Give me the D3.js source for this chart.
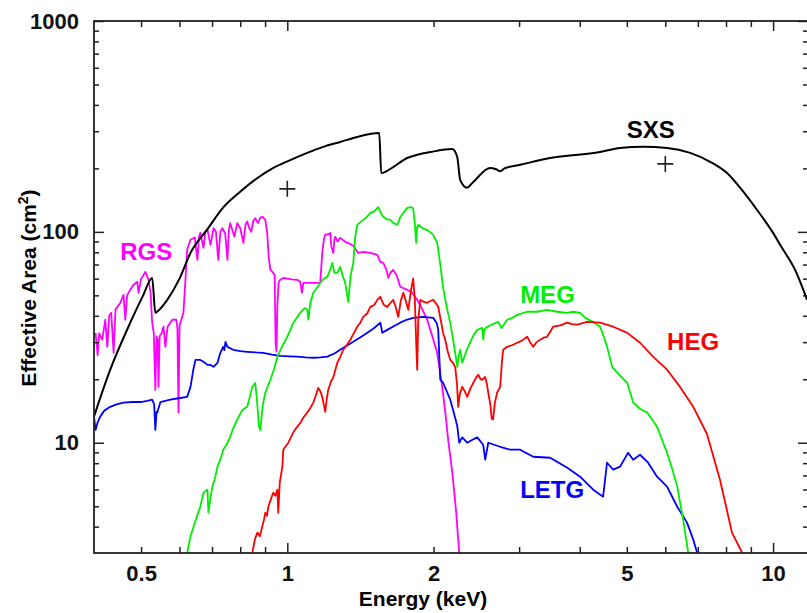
<!DOCTYPE html>
<html>
<head>
<meta charset="utf-8">
<script src="https://cdn.jsdelivr.net/npm/d3@7"></script>
<style>
body { margin:0; background:#fff; }
text { font-family: "Liberation Sans", Arial, Helvetica, sans-serif; }
</style>
</head>
<body>
<div id="chart"></div>
<script>
// [energy keV, effective area cm2]
const sxsData = [[0.40,13.3],[0.432,22.2],[0.475,37.1],[0.505,50],[0.527,60.5],[0.535,41.3],[0.540,41.9],[0.566,47.6],[0.600,60],[0.632,79.5],[0.685,103],[0.739,131],[0.800,155],[0.868,180],[0.936,201],[1.014,219],[1.099,237],[1.186,253],[1.285,267],[1.393,282],[1.546,294],[1.561,190],[1.652,203],[1.765,224],[1.851,232],[1.969,239],[2.185,247],[2.237,227],[2.270,176],[2.344,162],[2.412,172],[2.616,201],[2.69,198],[2.743,194],[2.80,200],[3.015,208],[3.476,224],[4.404,239],[4.842,250],[5.40,253],[6.05,250],[6.75,237],[7.42,215],[8.04,190],[8.55,162],[9.27,127],[10.0,98.9],[10.4,84.9],[11.1,66],[11.75,47.6]];

const rgsData = [[0.403,33.2],[0.407,26],[0.410,33],[0.416,30.8],[0.422,38.3],[0.426,28.5],[0.430,40],[0.434,41.3],[0.439,26.7],[0.443,43],[0.447,44.1],[0.453,46],[0.460,50.3],[0.464,38.3],[0.468,50],[0.475,53.1],[0.482,56],[0.491,58.0],[0.494,51.4],[0.500,60],[0.505,62],[0.510,64.6],[0.514,62],[0.518,59.2],[0.523,51.4],[0.527,37.1],[0.531,33.2],[0.535,17.8],[0.538,32],[0.541,30.8],[0.543,18.4],[0.546,32],[0.552,33.2],[0.556,35.5],[0.561,28.5],[0.567,35.5],[0.580,38.3],[0.591,38.3],[0.594,35],[0.597,13.9],[0.600,36],[0.605,38.3],[0.611,41.3],[0.617,59.2],[0.622,82.2],[0.632,91.7],[0.645,94],[0.653,73.6],[0.658,95],[0.662,98.9],[0.672,84],[0.678,100],[0.685,102],[0.695,86.8],[0.705,104],[0.713,100],[0.721,73.6],[0.728,100],[0.735,104],[0.745,98],[0.753,73.6],[0.758,102],[0.763,110],[0.778,95],[0.789,110],[0.800,104],[0.812,88.7],[0.820,108],[0.827,112],[0.835,104],[0.843,100],[0.850,112],[0.859,116],[0.870,110],[0.880,117],[0.888,118],[0.901,114],[0.909,98.9],[0.916,75],[0.923,66],[0.936,63.9],[0.942,62],[0.946,30],[0.950,27],[0.954,45],[0.960,58],[0.967,59.2],[0.981,60.5],[1.020,59.5],[1.048,59.2],[1.063,58],[1.072,51.4],[1.079,57.3],[1.099,57.3],[1.130,57.3],[1.169,57.3],[1.180,79.5],[1.190,93],[1.197,96.8],[1.215,97.5],[1.226,98.9],[1.232,85],[1.244,79.5],[1.250,92],[1.255,94.7],[1.270,90],[1.285,93.7],[1.304,91],[1.325,89],[1.348,87.6],[1.367,86],[1.385,82],[1.400,79.5],[1.433,80.4],[1.482,79.5],[1.532,77.8],[1.554,72],[1.576,71.3],[1.600,66],[1.614,60.5],[1.630,64],[1.652,66],[1.680,62],[1.708,54.9],[1.766,53.1],[1.808,51.4],[1.851,47.6],[1.896,43],[1.941,38.3],[1.988,32],[2.035,26.7],[2.084,18.4],[2.114,14],[2.144,10.3],[2.185,7.3],[2.227,4.66],[2.259,3.0]];

const letgData = [[0.400,13.3],[0.403,11.5],[0.407,12.5],[0.412,13.3],[0.420,14.2],[0.432,14.8],[0.445,15.2],[0.460,15.5],[0.480,15.6],[0.499,15.6],[0.515,15.8],[0.527,16.0],[0.532,15.2],[0.535,11.5],[0.538,14],[0.540,13.9],[0.548,15.6],[0.574,16.0],[0.602,16.3],[0.622,16.5],[0.632,18.4],[0.640,22],[0.647,24.7],[0.662,24.7],[0.672,24.2],[0.685,23.4],[0.695,23.4],[0.705,22.9],[0.718,23.9],[0.728,26.7],[0.738,28.5],[0.742,27.5],[0.746,30.1],[0.753,28.5],[0.774,27.6],[0.800,27.2],[0.827,27.0],[0.860,26.8],[0.892,26.7],[0.930,26.2],[0.967,25.8],[1.010,25.7],[1.048,25.6],[1.090,25.4],[1.131,25.3],[1.170,25.4],[1.209,25.6],[1.250,26.5],[1.285,27.6],[1.330,29],[1.367,30.1],[1.420,31.8],[1.461,33.2],[1.510,35],[1.554,37.1],[1.569,33.2],[1.606,34.3],[1.660,35.8],[1.708,37.1],[1.760,38.3],[1.816,39.1],[1.905,39.5],[1.997,39.1],[2.030,37],[2.045,34.3],[2.065,19.9],[2.094,19.2],[2.130,17.5],[2.165,16],[2.200,14],[2.238,12],[2.259,10],[2.291,10.6],[2.346,10.0],[2.400,10.3],[2.460,10.6],[2.531,9.78],[2.555,8.31],[2.592,10.0],[2.743,9.57],[2.874,9.27],[3.015,9.27],[3.208,8.58],[3.476,8.49],[3.770,7.61],[4.006,6.90],[4.264,5.99],[4.468,5.55],[4.552,8.04],[4.686,7.45],[4.842,7.70],[5.03,8.97],[5.152,8.31],[5.323,8.77],[5.53,8.04],[5.77,6.90],[6.05,6.19],[6.35,4.97],[6.65,4.18],[6.85,3.47],[6.98,3.0]];

const megData = [[0.622,3.0],[0.632,3.6],[0.641,4.0],[0.652,4.5],[0.662,4.97],[0.672,5.8],[0.685,5.99],[0.688,4.66],[0.695,5.5],[0.701,6.19],[0.710,6.8],[0.718,7.7],[0.728,8.3],[0.738,9.27],[0.750,9.8],[0.763,10.7],[0.775,11.8],[0.789,12.9],[0.808,14.3],[0.827,14.8],[0.837,16.5],[0.847,18.4],[0.859,19.2],[0.866,16],[0.874,12],[0.880,11.5],[0.890,15],[0.901,17.3],[0.923,19.9],[0.940,22.5],[0.954,25.6],[0.975,28.5],[1.0,31.8],[1.029,37.1],[1.063,41.3],[1.085,43.5],[1.099,42.7],[1.105,38.3],[1.115,46],[1.131,51.4],[1.150,54],[1.169,57.3],[1.190,60],[1.209,61.2],[1.225,66],[1.238,71.3],[1.250,64],[1.267,63.9],[1.285,68.2],[1.300,62],[1.316,57.3],[1.335,46.6],[1.350,62],[1.367,71.3],[1.380,95],[1.393,108],[1.433,114],[1.460,118],[1.482,123],[1.510,125],[1.539,131],[1.560,122],[1.576,118],[1.600,115],[1.629,114],[1.655,110],[1.684,108],[1.710,118],[1.733,123],[1.766,130],[1.800,131],[1.816,129],[1.830,110],[1.842,88.7],[1.850,105],[1.860,108],[1.900,104],[1.941,102],[1.997,96.8],[2.035,88.7],[2.065,70],[2.094,54],[2.133,43],[2.165,37],[2.196,30.5],[2.220,26],[2.238,22.9],[2.255,26],[2.270,27.6],[2.290,24],[2.302,24.7],[2.340,27.5],[2.380,30],[2.420,32.5],[2.460,34.3],[2.519,35.1],[2.531,30.8],[2.545,34.5],[2.580,35.5],[2.650,36.5],[2.717,37.4],[2.760,35],[2.836,38.3],[2.900,39],[2.973,40.4],[3.117,41.8],[3.268,41.8],[3.426,42.7],[3.593,41.8],[3.767,41.3],[3.878,41.8],[4.006,41.3],[4.104,39.1],[4.264,37.4],[4.404,35.5],[4.480,32],[4.552,28.5],[4.665,22.9],[4.775,21.5],[5.01,19.2],[5.152,15.5],[5.32,14.5],[5.505,13.9],[5.77,11.9],[5.91,10.3],[6.05,8.97],[6.2,7.5],[6.35,6.19],[6.53,4.32],[6.69,3.0]];

const hegData = [[0.847,3.0],[0.858,3.5],[0.868,3.75],[0.878,3.6],[0.888,4.0],[0.895,4.3],[0.901,4.66],[0.908,4.5],[0.914,4.97],[0.925,5.4],[0.936,5.8],[0.945,5.6],[0.954,5.99],[0.958,4.66],[0.965,6.5],[0.977,7.7],[0.981,9.27],[0.992,9.6],[1.005,10.0],[1.017,10.6],[1.029,11.2],[1.045,11.8],[1.063,12.4],[1.080,13.2],[1.099,13.9],[1.115,14.6],[1.131,15.5],[1.145,16.8],[1.158,18.2],[1.170,17.5],[1.180,16.5],[1.197,14.0],[1.205,16],[1.214,17.8],[1.230,19.5],[1.244,20.5],[1.267,23.9],[1.285,25.5],[1.304,27.6],[1.325,29],[1.348,30.8],[1.370,33],[1.393,35.5],[1.413,37],[1.433,39.5],[1.460,41],[1.482,44.1],[1.510,45],[1.532,47.6],[1.554,49.2],[1.580,45],[1.606,44.1],[1.630,46],[1.652,47.6],[1.672,44],[1.692,39.5],[1.712,47],[1.733,51.4],[1.754,47],[1.774,42.7],[1.795,52],[1.816,60],[1.830,48],[1.842,30],[1.851,22.2],[1.860,38],[1.878,47.6],[1.910,46.5],[1.941,46.1],[1.970,47],[1.997,47.6],[2.020,46],[2.045,44.1],[2.070,38],[2.094,33],[2.114,30.8],[2.140,27],[2.165,24.7],[2.190,24],[2.216,22.9],[2.235,19],[2.248,14.8],[2.265,17],[2.291,18.4],[2.320,17.5],[2.346,16.5],[2.380,18],[2.414,19.2],[2.445,20.3],[2.472,21.0],[2.500,20],[2.519,19.9],[2.555,20.5],[2.575,19],[2.592,17.3],[2.620,15],[2.635,13],[2.652,12.9],[2.675,15.5],[2.704,17.3],[2.743,18.4],[2.765,24],[2.782,27.6],[2.836,28.5],[2.900,29],[2.973,29.8],[3.040,30.5],[3.117,31.8],[3.160,30],[3.208,28.5],[3.260,30],[3.315,30.8],[3.370,31.5],[3.426,31.8],[3.526,35.5],[3.650,36],[3.767,37.1],[3.850,36.5],[3.951,36.3],[4.142,37.4],[4.404,37.1],[4.686,35.5],[5.01,33.2],[5.323,29.8],[5.66,25.6],[6.05,22.2],[6.433,18.4],[6.85,14.8],[7.31,11.0],[7.775,6.68],[8.23,3.75],[8.64,3.0]];

// the two "+" markers
const crossData = [[1.0,160],[6.0,210]];

const xTickLabels = [0.5, 1, 2, 5, 10];
const yTickLabels = [10, 100, 1000];

const series = [
    {name:"SXS",  data:sxsData,  color:"#000000"},
    {name:"RGS",  data:rgsData,  color:"#ff00ff"},
    {name:"LETG", data:letgData, color:"#0000ff"},
    {name:"MEG",  data:megData,  color:"#00ee00"},
    {name:"HEG",  data:hegData,  color:"#ff0000"}
];

var width = 807, height = 613;
var margin = {top: 21, right: 808, bottom: 553, left: 94};

var svg = d3.select("#chart")
    .append("svg")
    .attr("width", width)
    .attr("height", height);

var x = d3.scaleLog()
    .domain([0.4, 11.8])
    .range([margin.left, margin.right]);

var y = d3.scaleLog()
    .domain([3, 1000])
    .range([margin.bottom, margin.top]);

svg.append("clipPath").attr("id", "plotclip")
    .append("rect")
    .attr("x", margin.left).attr("y", margin.top)
    .attr("width", margin.right - margin.left)
    .attr("height", margin.bottom - margin.top);

// curves
var line = d3.line()
    .x(d => x(d[0]))
    .y(d => y(d[1]));

var plot = svg.append("g").attr("clip-path", "url(#plotclip)");

series.slice(1).forEach(s => {
    plot.append("path")
        .datum(s.data)
        .attr("fill", "none")
        .attr("stroke", s.color)
        .attr("stroke-width", 1.8)
        .attr("stroke-linejoin", "round")
        .attr("d", line);
});
// SXS is smooth, draw it on top
plot.append("path")
    .datum(sxsData)
    .attr("fill", "none")
    .attr("stroke", "#000")
    .attr("stroke-width", 2)
    .attr("d", line.curve(d3.curveMonotoneX));

svg.selectAll("path.cross")
    .data(crossData)
    .enter().append("path")
    .attr("class", "cross")
    .attr("transform", d => "translate(" + x(d[0]) + "," + y(d[1]) + ")")
    .attr("d", "M-8,0H8M0,-8V8")
    .attr("stroke", "#222")
    .attr("stroke-width", 1.6);

// frame + ticks (all inward)
var decX = [1, 10];
var minorX = x.ticks().filter(d => decX.indexOf(d) < 0 && d > 0.41);
var decY = yTickLabels.concat([]);
var minorY = y.ticks().filter(d => decY.indexOf(d) < 0 && d > 3.01);

function tickAxis(axis, vals, size, tr) {
    var g = svg.append("g")
        .attr("transform", tr)
        .call(axis.tickValues(vals).tickSize(size).tickFormat(""));
    g.select(".domain").remove();
    g.selectAll("line").attr("stroke", "#222").attr("stroke-width", 1.5);
}
tickAxis(d3.axisBottom(x), minorX, -6, "translate(0," + margin.bottom + ")");
tickAxis(d3.axisBottom(x), decX, -10, "translate(0," + margin.bottom + ")");
tickAxis(d3.axisTop(x), minorX, -6, "translate(0," + margin.top + ")");
tickAxis(d3.axisTop(x), decX, -10, "translate(0," + margin.top + ")");
tickAxis(d3.axisLeft(y), minorY, -5, "translate(" + margin.left + ",0)");
tickAxis(d3.axisLeft(y), decY, -10, "translate(" + margin.left + ",0)");
tickAxis(d3.axisRight(y), minorY, -5, "translate(" + margin.right + ",0)");
tickAxis(d3.axisRight(y), decY, -10, "translate(" + margin.right + ",0)");

svg.append("rect")
    .attr("x", margin.left).attr("y", margin.top)
    .attr("width", margin.right - margin.left)
    .attr("height", margin.bottom - margin.top)
    .attr("fill", "none")
    .attr("stroke", "#222")
    .attr("stroke-width", 1.8);

// tick labels
var xl = svg.append("g")
    .attr("transform", "translate(0," + margin.bottom + ")")
    .call(d3.axisBottom(x).tickValues(xTickLabels).tickSize(0).tickPadding(12).tickFormat(d => d));
xl.select(".domain").remove();
xl.selectAll("text").attr("font-size", 22).attr("font-weight", "bold")
    .attr("font-family", "Liberation Sans, Arial").attr("fill", "#111");

var yl = svg.append("g")
    .attr("transform", "translate(" + margin.left + ",0)")
    .call(d3.axisLeft(y).tickValues(yTickLabels).tickSize(0).tickPadding(15).tickFormat(d => d));
yl.select(".domain").remove();
yl.selectAll("text").attr("font-size", 22).attr("font-weight", "bold")
    .attr("font-family", "Liberation Sans, Arial").attr("fill", "#111");

// axis titles
svg.append("text")
    .attr("x", 423).attr("y", 606)
    .attr("text-anchor", "middle")
    .attr("font-size", 21).attr("font-weight", "bold")
    .text("Energy (keV)");

svg.append("text")
    .attr("transform", "translate(36,288) rotate(-90)")
    .attr("text-anchor", "middle")
    .attr("font-size", 21).attr("font-weight", "bold")
    .html("Effective Area (cm<tspan baseline-shift='super' font-size='14'>2</tspan>)");

// curve names
svg.append("text").attr("x", x(5.0)).attr("y", y(280)).attr("fill", "#000")
    .attr("font-size", 24).attr("font-weight", "bold").text("SXS");
svg.append("text").attr("x", x(0.453)).attr("y", y(73.6)).attr("fill", "#ff00ff")
    .attr("font-size", 24).attr("font-weight", "bold").text("RGS");
svg.append("text").attr("x", x(3.015)).attr("y", y(46.1)).attr("fill", "#00ee00")
    .attr("font-size", 24).attr("font-weight", "bold").text("MEG");
svg.append("text").attr("x", x(6.05)).attr("y", y(27.6)).attr("fill", "#ff0000")
    .attr("font-size", 24).attr("font-weight", "bold").text("HEG");
svg.append("text").attr("x", x(3.015)).attr("y", y(5.49)).attr("fill", "#0000ff")
    .attr("font-size", 24).attr("font-weight", "bold").text("LETG");
</script>
</body>
</html>
